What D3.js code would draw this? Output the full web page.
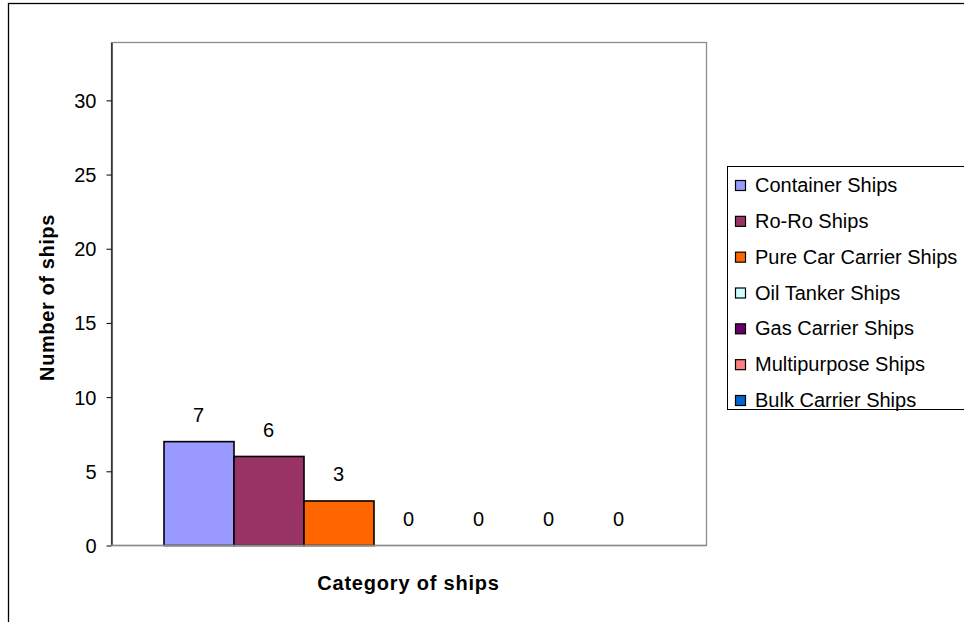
<!DOCTYPE html>
<html>
<head>
<meta charset="utf-8">
<script src="https://cdn.jsdelivr.net/npm/d3@7/dist/d3.min.js"></script>
<style>
  html, body { margin: 0; padding: 0; background: #fff; }
  svg { display: block; font-family: "Liberation Sans", Arial, sans-serif; }
</style>
</head>
<body>
<svg id="chart" width="964" height="622"></svg>
<script>
// Ship categories and the number of ships in each
const categories = ["Container Ships", "Ro-Ro Ships", "Pure Car Carrier Ships", "Oil Tanker Ships",
                    "Gas Carrier Ships", "Multipurpose Ships", "Bulk Carrier Ships"];
const shipCounts = [7, 6, 3, 0, 0, 0, 0];
const seriesColors = ["#9999FF", "#993366", "#FF6600", "#CCFFFF", "#660066", "#FF8080", "#0066CC"];
const yTicks = [0, 5, 10, 15, 20, 25, 30];

const svg = d3.select("#chart");

// outer chart frame
svg.append("rect")
  .attr("x", 8.5).attr("y", 3.5).attr("width", 970).attr("height", 640)
  .attr("fill", "#fff").attr("stroke", "#000").attr("stroke-width", 1.3);

const plot = { left: 111, top: 42, right: 706, bottom: 545 };

const y = d3.scaleLinear().domain([0, 33.9]).range([plot.bottom, plot.top]);
const x = d3.scaleBand().domain(categories)
  .range([plot.left, plot.right]).paddingInner(0).paddingOuter(0.75);

// plot area border
svg.append("rect")
  .attr("x", plot.left + 0.5).attr("y", plot.top + 0.5)
  .attr("width", plot.right - plot.left).attr("height", plot.bottom - plot.top)
  .attr("fill", "#fff").attr("stroke", "#8c8c8c").attr("stroke-width", 1.3);

// y axis
const yAxis = d3.axisLeft(y).tickValues(yTicks).tickSize(5).tickSizeOuter(0)
  .tickPadding(10).tickFormat(d3.format("d"));
const gy = svg.append("g").attr("transform", `translate(${plot.left + 0.5},0.5)`).call(yAxis);
gy.select(".domain").attr("stroke", "#000").attr("stroke-width", 1.2);
gy.selectAll(".tick line").attr("stroke", "#000");
gy.selectAll(".tick text").attr("font-size", 20).attr("fill", "#000").attr("dy", "0.35em")
  .attr("font-family", "'Liberation Sans', Arial, sans-serif");

// bars
svg.append("g").selectAll("rect").data(categories).join("rect")
  .attr("x", d => x(d) + 0.5)
  .attr("y", (d, i) => y(shipCounts[i]) + 0.5)
  .attr("width", x.bandwidth())
  .attr("height", (d, i) => y(0) - y(shipCounts[i]))
  .attr("fill", (d, i) => seriesColors[i])
  .attr("stroke", "#000").attr("stroke-width", 1.6)
  .style("display", (d, i) => shipCounts[i] > 0 ? null : "none");

// baseline at zero
svg.append("line")
  .attr("x1", plot.left).attr("x2", plot.right)
  .attr("y1", y(0) + 0.5).attr("y2", y(0) + 0.5)
  .attr("stroke", "#8c8c8c").attr("stroke-width", 1.3);

// value labels
svg.append("g").selectAll("text").data(categories).join("text")
  .attr("x", d => x(d) + x.bandwidth() / 2)
  .attr("y", (d, i) => y(shipCounts[i]) - 19)
  .attr("text-anchor", "middle")
  .attr("font-size", 20).attr("fill", "#000")
  .text((d, i) => shipCounts[i]);

// axis titles
svg.append("text")
  .attr("transform", `translate(54,${(plot.top + plot.bottom) / 2 + 4}) rotate(-90)`)
  .attr("text-anchor", "middle").attr("font-size", 20).attr("font-weight", "bold")
  .attr("letter-spacing", 0.6)
  .text("Number of ships");

svg.append("text")
  .attr("x", (plot.left + plot.right) / 2 + 0).attr("y", 590)
  .attr("text-anchor", "middle").attr("font-size", 20).attr("font-weight", "bold")
  .attr("letter-spacing", 0.8)
  .text("Category of ships");

// legend
const legend = svg.append("g");
legend.append("rect")
  .attr("x", 727.5).attr("y", 166.5).attr("width", 245).attr("height", 243)
  .attr("fill", "#fff").attr("stroke", "#000").attr("stroke-width", 1);

const rowY = d3.scalePoint().domain(categories).range([185, 400]);
const items = legend.selectAll("g.item").data(categories).join("g").attr("class", "item")
  .attr("transform", d => `translate(0,${rowY(d)})`);
items.append("rect")
  .attr("x", 735.5).attr("y", -4.5).attr("width", 10).attr("height", 10)
  .attr("fill", (d, i) => seriesColors[i]).attr("stroke", "#000").attr("stroke-width", 1.2);
items.append("text")
  .attr("x", 755).attr("y", 7)
  .attr("font-size", 20).attr("fill", "#000")
  .text(d => d);
</script>
</body>
</html>
